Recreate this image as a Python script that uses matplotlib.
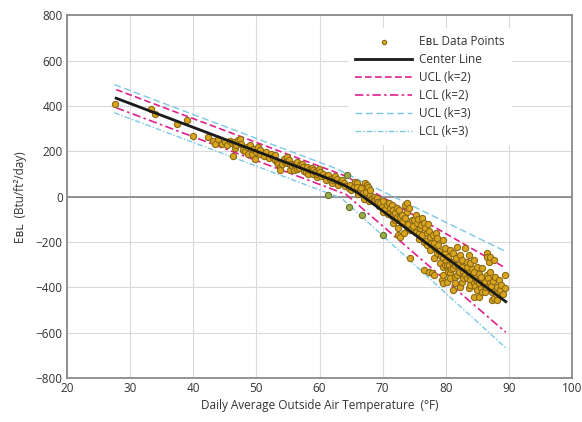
import matplotlib
matplotlib.use("Agg")
import matplotlib.pyplot as plt

plt.rcParams['font.family'] = ['Open Sans', 'DejaVu Sans']

# ---- data points (temperature °F, E_BL Btu/ft2/day) ----
temp = [27.6, 33.3, 33.9, 37.4, 39.0, 40.0, 42.4, 43.1, 43.5, 44.0, 44.5, 45.0, 45.3, 45.8, 46.1, 46.3,
        46.4, 46.6, 46.8, 47.1, 47.4, 47.6, 47.9, 48.2, 48.5, 48.7, 49.0, 49.3, 49.5, 49.8, 50.0, 50.3,
        50.6, 50.6, 51.2, 51.5, 52.0, 52.3, 52.7, 53.0, 53.0, 53.2, 53.5, 53.8, 53.8, 54.0, 54.3, 54.5,
        54.8, 54.8, 55.1, 55.3, 55.3, 55.6, 55.9, 55.9, 56.1, 56.4, 56.4, 56.7, 56.9, 57.2, 57.4, 57.6,
        57.9, 58.0, 58.2, 58.5, 58.5, 58.8, 59.0, 59.0, 59.3, 59.6, 59.6, 59.9, 60.1, 60.3, 60.6, 60.9,
        61.1, 61.4, 61.7, 61.9, 62.2, 62.4, 62.7, 63.0, 63.3, 63.5, 63.8, 64.1, 64.6, 64.8, 65.0, 65.4,
        65.6, 65.9, 65.9, 66.1, 66.4, 66.6, 66.9, 67.0, 67.2, 67.4, 67.5, 67.7, 67.9, 68.0, 68.0, 68.3,
        68.6, 68.6, 68.8, 69.1, 69.1, 69.3, 69.4, 69.6, 69.9, 70.0, 70.1, 70.4, 70.7, 70.9, 71.0, 71.2,
        71.4, 71.5, 71.7, 71.7, 71.9, 72.0, 72.2, 72.3, 72.5, 72.5, 72.6, 72.8, 72.8, 73.0, 73.1, 73.3,
        73.5, 73.6, 73.8, 73.8, 73.8, 74.0, 74.2, 74.3, 74.4, 74.6, 74.8, 75.0, 75.2, 75.3, 75.4, 75.6,
        75.7, 75.8, 75.9, 76.0, 76.2, 76.3, 76.5, 76.5, 76.5, 76.7, 76.9, 77.0, 77.0, 77.2, 77.3, 77.4,
        77.5, 77.5, 77.7, 77.8, 77.9, 78.1, 78.1, 78.1, 78.3, 78.4, 78.6, 78.6, 78.8, 79.0, 79.1, 79.3,
        79.4, 79.6, 79.6, 79.6, 79.6, 79.6, 79.8, 79.9, 79.9, 80.0, 80.2, 80.2, 80.3, 80.4, 80.5, 80.7,
        80.7, 80.7, 80.9, 81.0, 81.2, 81.2, 81.2, 81.4, 81.5, 81.5, 81.6, 81.8, 81.8, 82.0, 82.1, 82.3,
        82.3, 82.5, 82.5, 82.6, 82.8, 82.8, 83.0, 83.1, 83.3, 83.3, 83.4, 83.6, 83.6, 83.6, 83.8, 83.9,
        83.9, 83.9, 84.1, 84.4, 84.4, 84.4, 84.4, 84.6, 84.7, 84.9, 84.9, 85.0, 85.2, 85.2, 85.3, 85.5,
        85.5, 85.7, 85.8, 86.0, 86.2, 86.2, 86.3, 86.5, 86.5, 86.5, 86.7, 86.8, 87.0, 87.0, 87.0, 87.2,
        87.3, 87.3, 87.5, 87.6, 87.6, 87.8, 88.0, 88.1, 88.1, 88.4, 88.6, 88.8, 89.0, 89.4, 89.4]
ebl = [407, 388, 363, 322, 336, 269, 262, 246, 234, 255, 230, 241, 227, 246, 235, 178,
       241, 215, 227, 249, 252, 230, 205, 200, 219, 187, 227, 190, 208, 168, 197, 217,
       187, 205, 180, 195, 170, 190, 175, 161, 183, 153, 146, 131, 117, 145, 168, 153,
       150, 175, 161, 146, 117, 135, 117, 146, 140, 124, 153, 125, 139, 145, 131, 115,
       109, 131, 100, 117, 124, 125, 102, 117, 110, 87, 102, 124, 109, 90, 102, 87,
       72, 95, 80, 60, 73, 90, 80, 50, 65, 75, 58, 45, 36, 51, 30, 43,
       65, 58, 43, 10, 29, 40, 14, -10, 58, 20, 51, 43, -20, 7, 29, -5,
       -1, -15, -15, -8, -23, -23, -40, -30, -45, -20, -67, -55, -37, -75, -30, -52,
       -85, -37, -59, -118, -70, -105, -89, -52, -140, -170, -60, -89, -177, -110, -80, -162,
       -95, -37, -67, -30, -133, -120, -50, -145, -272, -104, -130, -105, -81, -155, -118, -100,
       -162, -185, -140, -125, -96, -170, -118, -199, -324, -140, -195, -162, -214, -120, -331, -150,
       -177, -236, -205, -338, -170, -206, -272, -346, -225, -160, -184, -250, -215, -240, -294, -260,
       -368, -192, -272, -309, -346, -382, -250, -228, -302, -285, -302, -375, -265, -331, -300, -236,
       -338, -360, -320, -287, -250, -316, -412, -300, -353, -382, -270, -221, -346, -302, -330, -258,
       -397, -280, -375, -310, -331, -360, -345, -228, -309, -360, -290, -258, -338, -404, -350, -294,
       -368, -390, -320, -280, -331, -382, -441, -395, -360, -309, -412, -370, -382, -441, -340, -353,
       -404, -316, -420, -390, -375, -419, -400, -250, -265, -346, -360, -287, -265, -331, -382, -395,
       -419, -456, -370, -280, -448, -353, -430, -397, -456, -368, -412, -390, -430, -346, -404]

# points drawn with greenish fill (outside the k=3 band)
out_temp = [61.4, 64.3, 64.6, 66.7, 70.1]
out_ebl = [7, 95, -45, -81, -170]

# ---- model lines ----
cl_x = [27.8, 60, 62, 64, 66, 68, 89.5]
cl_y = [434, 95, 73, 49, 18, -22, -463]
ucl2_x = [27.8, 64.2, 89.5]
ucl2_y = [472, 90, -315]
lcl2_x = [27.8, 64.2, 89.5]
lcl2_y = [392, 10, -598]
ucl3_x = [27.5, 62.5, 89.5]
ucl3_y = [494, 125, -242]
lcl3_x = [27.5, 63.5, 89.5]
lcl3_y = [370, -7, -667]

x_ticks = [20, 30, 40, 50, 60, 70, 80, 90, 100]
y_ticks = [-800, -600, -400, -200, 0, 200, 400, 600, 800]

fig = plt.figure(figsize=(5.82, 4.22), dpi=100)
ax = fig.add_axes([0.115, 0.104, 0.868, 0.860])

magenta = '#e0208c'
cyan = '#7cc8e4'

ax.plot(ucl3_x, ucl3_y, color=cyan, lw=1.0, ls=(0, (5, 2.5)), label='UCL (k=3)', zorder=2)
ax.plot(lcl3_x, lcl3_y, color=cyan, lw=1.0, ls=(0, (4, 1.5, 1, 1.5)), label='LCL (k=3)', zorder=2)
ax.plot(ucl2_x, ucl2_y, color=magenta, lw=1.2, ls=(0, (4, 2)), label='UCL (k=2)', zorder=2)
ax.plot(lcl2_x, lcl2_y, color=magenta, lw=1.2, ls=(0, (5, 2, 1.5, 2)), label='LCL (k=2)', zorder=2)

ax.scatter(temp, ebl, s=20, facecolor='#d9a51e', edgecolor='#8c6a14', linewidths=0.8,
           label='E\u0299\u029f Data Points', zorder=3)
ax.scatter(out_temp, out_ebl, s=20, facecolor='#9cab4a', edgecolor='#66702c', linewidths=0.8, zorder=3)
ax.plot(cl_x, cl_y, color='#1a1a1a', lw=2.0, label='Center Line', zorder=4)

ax.set_xlim(20, 100)
ax.set_ylim(-800, 800)
ax.set_xticks(x_ticks)
ax.set_yticks(y_ticks)
ax.tick_params(length=0, labelsize=8.5, colors='#333333', pad=3)
ax.grid(True, color='#d9d9d9', lw=0.8)
ax.set_axisbelow(True)
ax.axhline(0, color='#8a8a8a', lw=1.3, zorder=1)
for s in ax.spines.values():
    s.set_color('#8a8a8a')
    s.set_linewidth(1.3)

ax.set_xlabel('Daily Average Outside Air Temperature  (\u00b0F)', fontsize=8.5, color='#333333', labelpad=3)
ax.set_ylabel('E\u0299\u029f  (Btu/ft\u00b2/day)', fontsize=8.5, color='#333333', labelpad=6)

h, l = ax.get_legend_handles_labels()
order = ['E\u0299\u029f Data Points', 'Center Line', 'UCL (k=2)', 'LCL (k=2)', 'UCL (k=3)', 'LCL (k=3)']
hd = dict(zip(l, h))
leg = ax.legend([hd[k] for k in order], order, loc='upper left', bbox_to_anchor=(0.545, 0.98),
                fontsize=8.5, frameon=True, facecolor='white', edgecolor='none', framealpha=1,
                handlelength=4.8, labelspacing=0.42, borderpad=0.6, handletextpad=0.6,
                scatterpoints=1, fancybox=False, markerscale=0.7)
for t in leg.get_texts():
    t.set_color('#333333')

fig.savefig('out.png', dpi=100)
